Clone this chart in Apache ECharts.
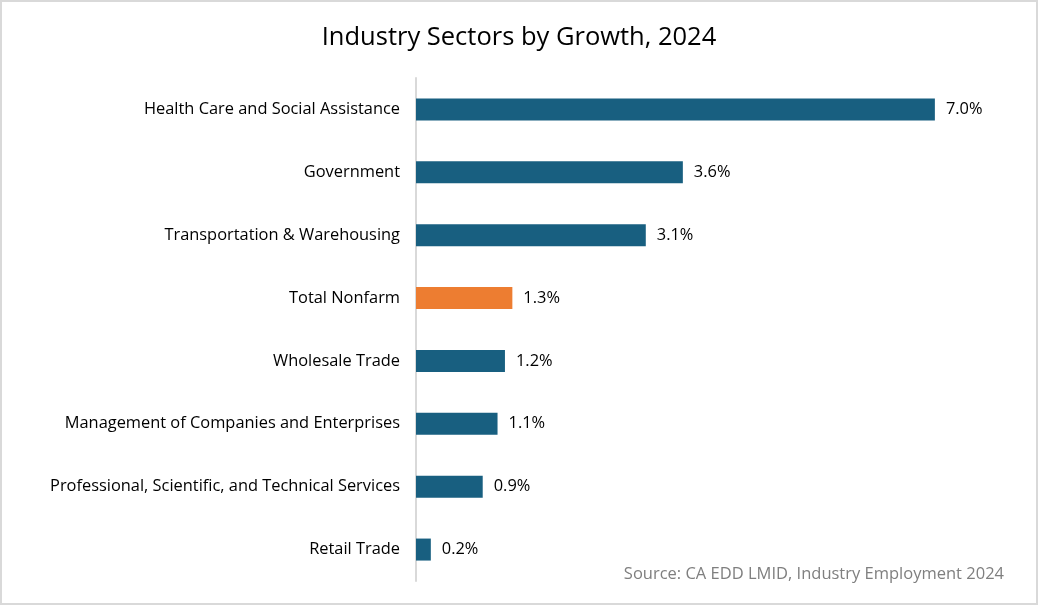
<!DOCTYPE html>
<html>
<head>
<meta charset="utf-8">
<script src="https://cdn.jsdelivr.net/npm/echarts@6/dist/echarts.min.js"></script>
<style>
  html, body { margin: 0; padding: 0; background: #fff; }
  #main { width: 1038px; height: 605px; box-sizing: border-box; border: 2px solid #d9d9d9; }
</style>
</head>
<body>
<div id="main"></div>
<script>
// sectors listed top to bottom
const sectors = [
  'Health Care and Social Assistance',
  'Government',
  'Transportation & Warehousing',
  'Total Nonfarm',
  'Wholesale Trade',
  'Management of Companies and Enterprises',
  'Professional, Scientific, and Technical Services',
  'Retail Trade'
]
const growth = [7.0, 3.6, 3.1, 1.3, 1.2, 1.1, 0.9, 0.2]
const highlight = 'Total Nonfarm'

const blue = '#185f80'
const orange = '#ed7d31'
const font = 'Open Sans'

const myChart = echarts.init(document.getElementById('main'))
const option = {
  animation: false,
  title: {
    text: 'Industry Sectors by Growth, 2024',
    left: 'center',
    top: 18,
    textStyle: { fontFamily: font, fontSize: 25.5, fontWeight: 'normal', color: '#000' }
  },
  graphic: [{
    type: 'text',
    right: 32,
    bottom: 20,
    style: {
      text: 'Source: CA EDD LMID, Industry Employment 2024',
      fontFamily: font, fontSize: 16.5, fill: '#7f7f7f'
    }
  }],
  grid: { left: 414, right: 27, top: 76, bottom: 22 },
  xAxis: {
    type: 'value',
    min: 0,
    max: 8,
    show: false
  },
  yAxis: {
    type: 'category',
    inverse: true,
    data: sectors,
    axisLine: { show: true, lineStyle: { color: '#d9d9d9', width: 2 } },
    axisTick: { show: false },
    axisLabel: { fontFamily: font, fontSize: 16.4, color: '#000', margin: 16 }
  },
  series: [{
    type: 'bar',
    barWidth: 22,
    data: growth.map((v, i) => ({
      value: v,
      itemStyle: { color: sectors[i] === highlight ? orange : blue }
    })),
    label: {
      show: true,
      position: 'right',
      distance: 11,
      fontFamily: font,
      fontSize: 16.4,
      color: '#000',
      formatter: p => p.value.toFixed(1) + '%'
    }
  }]
}
myChart.setOption(option)
</script>
</body>
</html>
